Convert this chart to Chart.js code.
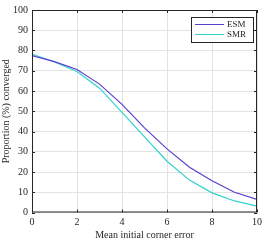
<!DOCTYPE html>
<html>
<head>
<meta charset="utf-8">
<script src="https://cdn.jsdelivr.net/npm/chart.js@4"></script>
<style>
  html, body { margin: 0; padding: 0; background: #fff; }
  #wrap { width: 266px; height: 241px; }
</style>
</head>
<body>
<div id="wrap"><canvas id="chart" width="266" height="241"></canvas></div>
<script>
const errors = [0, 1, 2, 3, 4, 5, 6, 7, 8, 9, 10];
const esm = [77.5, 74.5, 70.6, 63.4, 53.4, 41.8, 31.4, 22.4, 15.7, 10.0, 6.5];
const smr = [78.3, 74.3, 69.6, 61.4, 49.4, 37.3, 25.3, 16.0, 9.7, 5.7, 3.1];
const seriesNames = ["ESM", "SMR"];
const seriesColors = ["#5a3fcf", "#2fd2cc"];

const FONT = "'Liberation Serif', 'DejaVu Serif', serif";

// box around plot area with inward ticks, like matlab
const boxPlugin = {
  id: "box",
  afterDatasetsDraw(chart) {
    const { ctx, chartArea: a, scales } = chart;
    ctx.save();
    ctx.strokeStyle = "#262626";
    ctx.lineWidth = 1;
    ctx.strokeRect(a.left + 0.5, a.top + 0.5, a.right - a.left - 1, a.bottom - a.top - 1);
    ctx.beginPath();
    scales.x.ticks.forEach(t => {
      const px = Math.round(scales.x.getPixelForValue(t.value)) + 0.5;
      ctx.moveTo(px, a.bottom); ctx.lineTo(px, a.bottom - 3);
      ctx.moveTo(px, a.top); ctx.lineTo(px, a.top + 3);
    });
    scales.y.ticks.forEach(t => {
      const py = Math.round(scales.y.getPixelForValue(t.value)) + 0.5;
      ctx.moveTo(a.left, py); ctx.lineTo(a.left + 3, py);
      ctx.moveTo(a.right, py); ctx.lineTo(a.right - 3, py);
    });
    ctx.stroke();

    // legend box, top right
    const w = 62, h = 25;
    const x0 = a.right - w - 4, y0 = a.top + 7;
    ctx.fillStyle = "#fff";
    ctx.fillRect(x0, y0, w, h);
    ctx.strokeRect(x0 + 0.5, y0 + 0.5, w, h);
    ctx.font = "9px " + FONT;
    ctx.textBaseline = "middle";
    seriesNames.forEach((name, i) => {
      const yy = y0 + 7.5 + i * 10;
      ctx.strokeStyle = seriesColors[i];
      ctx.beginPath();
      ctx.moveTo(x0 + 4, yy); ctx.lineTo(x0 + 33, yy);
      ctx.stroke();
      ctx.fillStyle = "#262626";
      ctx.fillText(name, x0 + 36, yy + 0.5);
    });
    ctx.restore();
  }
};

new Chart(document.getElementById("chart"), {
  type: "line",
  data: {
    labels: errors,
    datasets: seriesNames.map((name, i) => ({
      label: name,
      data: (i === 0 ? esm : smr).map((v, j) => ({ x: errors[j], y: v })),
      borderColor: seriesColors[i],
      borderWidth: 1.2,
      pointRadius: 0,
      tension: 0,
      fill: false
    }))
  },
  options: {
    responsive: false,
    animation: false,
    layout: { padding: { left: 0, top: 5, right: 7, bottom: 0 } },
    plugins: { legend: { display: false }, tooltip: { enabled: false } },
    scales: {
      x: {
        type: "linear",
        min: 0, max: 10,
        afterFit(s) { s.height = 28.5; },
        grid: { color: "#e3e3e3", drawTicks: false },
        border: { display: false },
        ticks: { stepSize: 2, padding: 4, color: "#262626", font: { family: FONT, size: 10 } },
        title: { display: true, text: "Mean initial corner error", color: "#262626", padding: 0,
                 font: { family: FONT, size: 10 } }
      },
      y: {
        min: 0, max: 100,
        afterFit(s) { s.width = 32; },
        grid: { color: "#e3e3e3", drawTicks: false },
        border: { display: false },
        ticks: { stepSize: 10, padding: 4, color: "#262626", font: { family: FONT, size: 10 } },
        title: { display: true, text: "Proportion (%) converged", color: "#262626", padding: 0,
                 font: { family: FONT, size: 10 } }
      }
    }
  },
  plugins: [boxPlugin]
});
</script>
</body>
</html>
